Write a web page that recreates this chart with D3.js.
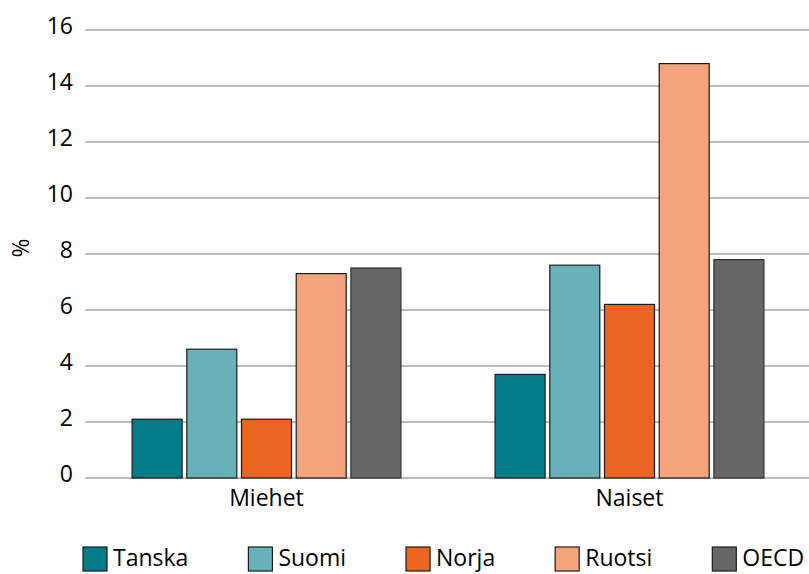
<!DOCTYPE html>
<html>
<head>
<meta charset="utf-8">
<script src="https://cdn.jsdelivr.net/npm/d3@7"></script>
<style>
  html, body { margin: 0; padding: 0; background: #fff; }
  svg { display: block; }
  text { font-family: "Open Sans", "Noto Sans", sans-serif; fill: #000; }
</style>
</head>
<body>
<svg id="chart" width="809" height="574"></svg>
<script>
// Groups on the x axis
const groups = ["Miehet", "Naiset"];
// Countries (series)
const series = ["Tanska", "Suomi", "Norja", "Ruotsi", "OECD"];
// Values in % per series, ordered as groups
const tanska = [2.1, 3.7];
const suomi  = [4.6, 7.6];
const norja  = [2.1, 6.2];
const ruotsi = [7.3, 14.8];
const oecd   = [7.5, 7.8];
// Y axis ticks
const yTicks = [0, 2, 4, 6, 8, 10, 12, 14, 16];
const yLabel = "%";
const colors = ["#027c88", "#68b1b9", "#ea6620", "#f2a57c", "#676767"];

const seriesValues = [tanska, suomi, norja, ruotsi, oecd];
const rows = groups.map((g, gi) => ({
  group: g,
  values: series.map((s, si) => ({ key: s, value: seriesValues[si][gi], idx: si }))
}));

const svg = d3.select("#chart");
const plotLeft = 85, plotRight = 811, plotTop = 30, plotBottom = 478;

const x0 = d3.scaleBand().domain(groups).range([plotLeft, plotRight]).padding(0);
const x1 = d3.scaleBand().domain(series).range([0, x0.bandwidth()])
  .paddingInner(0.086).paddingOuter(0.861);
const y = d3.scaleLinear().domain([0, 16]).range([plotBottom, plotTop]);
const color = d3.scaleOrdinal().domain(series).range(colors);

// Horizontal gridlines
svg.append("g").selectAll("line").data(yTicks).join("line")
  .attr("x1", plotLeft).attr("x2", 809)
  .attr("y1", d => y(d)).attr("y2", d => y(d))
  .attr("stroke", "#a3a3a3").attr("stroke-width", 1.4);

// Y tick labels
svg.append("g").selectAll("text").data(yTicks).join("text")
  .attr("x", 73).attr("y", d => y(d) + 4)
  .attr("text-anchor", "end")
  .style("font-size", "23px")
  .text(d => d);

// Y axis title
svg.append("text")
  .attr("transform", `translate(29, 248) rotate(-90)`)
  .attr("text-anchor", "middle")
  .style("font-size", "23px")
  .text(yLabel);

// Bars
const gGroups = svg.append("g").selectAll("g").data(rows).join("g")
  .attr("transform", d => `translate(${x0(d.group)},0)`);
gGroups.selectAll("rect").data(d => d.values).join("rect")
  .attr("x", d => x1(d.key))
  .attr("width", x1.bandwidth())
  .attr("y", d => y(d.value))
  .attr("height", d => y(0) - y(d.value))
  .attr("fill", d => color(d.key))
  .attr("stroke", d => d.key === "OECD" ? "#2e2e2e" : "#1a1a1a")
  .attr("stroke-width", 1.2);

// Category labels
svg.append("g").selectAll("text").data(groups).join("text")
  .attr("x", d => x0(d) + x0.bandwidth() / 2)
  .attr("y", 506)
  .attr("text-anchor", "middle")
  .style("font-size", "23px")
  .text(d => d);

// Legend along the bottom edge
const legend = svg.append("g");
let lx = 83;
series.forEach(s => {
  legend.append("rect")
    .attr("x", lx).attr("y", 547).attr("width", 24).attr("height", 24)
    .attr("fill", color(s)).attr("stroke", "#1a1a1a").attr("stroke-width", 1.2);
  const t = legend.append("text")
    .attr("x", lx + 30).attr("y", 566)
    .style("font-size", "23px")
    .text(s);
  lx = lx + 30 + t.node().getComputedTextLength() + 60;
});
</script>
</body>
</html>
